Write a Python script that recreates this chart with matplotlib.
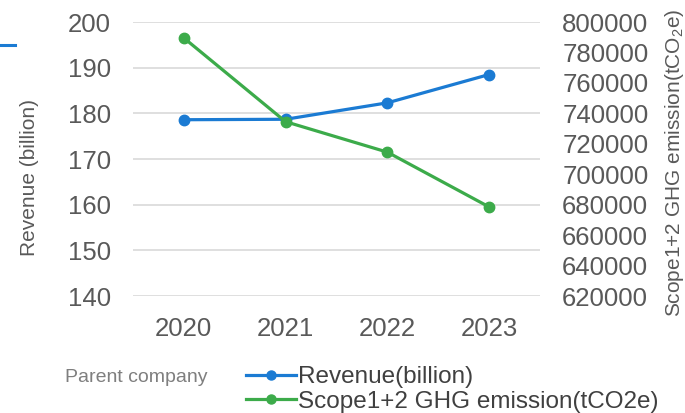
import matplotlib
matplotlib.use("Agg")
import matplotlib.pyplot as plt
from matplotlib.lines import Line2D

plt.rcParams['font.family'] = ['Liberation Sans', 'DejaVu Sans']
plt.rcParams['mathtext.default'] = 'regular'

years = ["2020", "2021", "2022", "2023"]
revenue = [178.6, 178.7, 182.3, 188.5]
emission = [789500, 734500, 714500, 678500]
left_ticks = [140, 150, 160, 170, 180, 190, 200]
right_ticks = [620000, 640000, 660000, 680000, 700000, 720000, 740000, 760000, 780000, 800000]

BLUE = "#1b7bd3"
GREEN = "#3cab4a"
TICK = "#595959"
GRID = "#d9d9d9"

fig = plt.figure(figsize=(6.85, 4.13), dpi=100)
ax = fig.add_axes([133/685, 1-296/413, (540-133)/685, (296-22)/413])
ax2 = ax.twinx()

x = list(range(len(years)))
ax.plot(x, revenue, color=BLUE, lw=2.3, marker='o', ms=7.5, zorder=3)
ax2.plot(x, emission, color=GREEN, lw=2.3, marker='o', ms=7.5, zorder=3)

ax.set_xlim(-0.5, 3.5)
ax.set_ylim(140, 200)
ax2.set_ylim(620000, 800000)
ax.set_yticks(left_ticks)
ax2.set_yticks(right_ticks)
ax.set_xticks(x)
ax.set_xticklabels(years)

for a in (ax, ax2):
    for s in a.spines.values():
        s.set_visible(False)
ax.yaxis.grid(True, color=GRID, lw=1.2)
ax.set_axisbelow(True)
ax.tick_params(axis='both', length=0, labelsize=18.5, labelcolor=TICK)
ax.tick_params(axis='y', pad=16)
ax.tick_params(axis='x', pad=15)
ax2.tick_params(axis='y', length=0, labelsize=18.5, labelcolor=TICK, pad=16)

fig.text(30/685, 1-177/413, "Revenue (billion)", rotation=90, ha='center', va='center',
         fontsize=15, color=TICK)
fig.text(675/685, 1-163/413, "Scope1+2 GHG emission(tCO$_2$e)", rotation=90, ha='center',
         va='center', fontsize=15, color=TICK)

fig.text(65/685, 1-377/413, "Parent company", ha='left', va='center', fontsize=14, color="#7f7f7f")

handles = [Line2D([], [], color=BLUE, lw=2.3, marker='o', ms=6.5),
           Line2D([], [], color=GREEN, lw=2.3, marker='o', ms=6.5)]
fig.legend(handles, ["Revenue(billion)", "Scope1+2 GHG emission(tCO2e)"],
           loc='upper left', bbox_to_anchor=(246/685, 1-366/413), frameon=False,
           fontsize=17.5, handlelength=2.05, handletextpad=0.1, labelspacing=0.12,
           borderpad=0, borderaxespad=0, labelcolor="#404040")

fig.add_artist(Line2D([0, 15/685], [1-45/413, 1-45/413], color=BLUE, lw=2.2,
                      transform=fig.transFigure))

fig.savefig("out.png", dpi=100)
